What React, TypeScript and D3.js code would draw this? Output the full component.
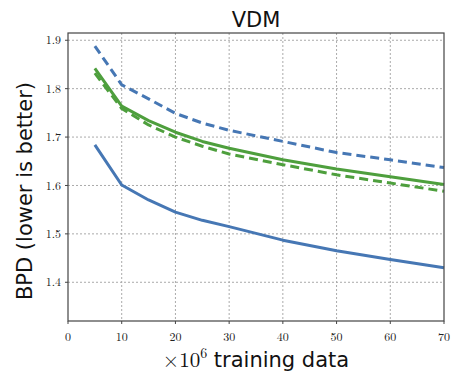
import React from "react";
import * as d3 from "d3";

const xValues = [5, 10, 15, 20, 25, 30, 40, 50, 60, 70];
const blueSolid = [1.684, 1.601, 1.570, 1.545, 1.528, 1.515, 1.487, 1.465, 1.447, 1.430];
const blueDashed = [1.888, 1.808, 1.779, 1.749, 1.729, 1.714, 1.691, 1.668, 1.653, 1.637];
const greenSolid = [1.842, 1.764, 1.734, 1.710, 1.691, 1.677, 1.653, 1.634, 1.618, 1.602];
const greenDashed = [1.832, 1.759, 1.725, 1.700, 1.681, 1.665, 1.643, 1.622, 1.605, 1.588];
const xTicks = [0, 10, 20, 30, 40, 50, 60, 70];
const yTicks = [1.4, 1.5, 1.6, 1.7, 1.8, 1.9];

const BLUE = "#4677b4";
const GREEN = "#4e9f3d";

const series = [
  { values: blueDashed, color: BLUE, dash: "9,5" },
  { values: greenDashed, color: GREEN, dash: "9,5" },
  { values: greenSolid, color: GREEN, dash: "" },
  { values: blueSolid, color: BLUE, dash: "" },
];

export default function App() {
  const W = 453, H = 373;
  const L = 68, R = 444, T = 33, B = 321;
  const x = d3.scaleLinear().domain([0, 70]).range([L, R]);
  const y = d3.scaleLinear().domain([1.32, 1.915]).range([B, T]);
  const line = d3
    .line<number>()
    .x((_, i) => x(xValues[i]))
    .y((d) => y(d))
    .curve(d3.curveLinear);
  const serif = "'Latin Modern Roman', 'DejaVu Serif', 'Liberation Serif', serif";
  const sans = "'DejaVu Sans', 'Noto Sans', sans-serif";
  return (
    <svg width={W} height={H} style={{ position: "absolute", left: 0, top: 0 }}>
      <rect width={W} height={H} fill="#fff" />
      {xTicks.slice(1, -1).map((t) => (
        <line key={"gx" + t} x1={x(t)} x2={x(t)} y1={T} y2={B} stroke="#aaa" strokeWidth={1} strokeDasharray="2,2" />
      ))}
      {yTicks.map((t) => (
        <line key={"gy" + t} x1={L} x2={R} y1={y(t)} y2={y(t)} stroke="#aaa" strokeWidth={1} strokeDasharray="2,2" />
      ))}
      {series.map((s, i) => (
        <path key={i} d={line(s.values) || ""} fill="none" stroke={s.color} strokeWidth={3} strokeDasharray={s.dash} strokeLinejoin="round" />
      ))}
      <rect x={L} y={T} width={R - L} height={B - T} fill="none" stroke="#444" strokeWidth={1.2} />
      {yTicks.map((t) => (
        <g key={"ty" + t}>
          <line x1={L - 3} x2={L} y1={y(t)} y2={y(t)} stroke="#444" />
          <text x={L - 7} y={y(t)} dy="0.35em" textAnchor="end" fontFamily={serif} fontSize={12} fill="#222">
            {t.toFixed(1)}
          </text>
        </g>
      ))}
      {xTicks.map((t) => (
        <g key={"tx" + t}>
          <line x1={x(t)} x2={x(t)} y1={B} y2={B + 3} stroke="#444" />
          <text x={x(t)} y={341} textAnchor="middle" fontFamily={serif} fontSize={12} fill="#222">
            {t}
          </text>
        </g>
      ))}
      <text x={256} y={27} textAnchor="middle" fontFamily={sans} fontSize={21} fill="#111">
        VDM
      </text>
      <text
        transform={`translate(32,${(T + B) / 2 + 14}) rotate(-90)`}
        textAnchor="middle"
        fontFamily={sans}
        fontSize={21}
        fill="#111"
      >
        BPD (lower is better)
      </text>
      <text x={256} y={367} textAnchor="middle" fontSize={21} fill="#111">
        <tspan fontFamily={serif}>×10</tspan>
        <tspan fontFamily={serif} fontSize={14} dy={-9}>6</tspan>
        <tspan fontFamily={sans} dy={9}> training data</tspan>
      </text>
    </svg>
  );
}
